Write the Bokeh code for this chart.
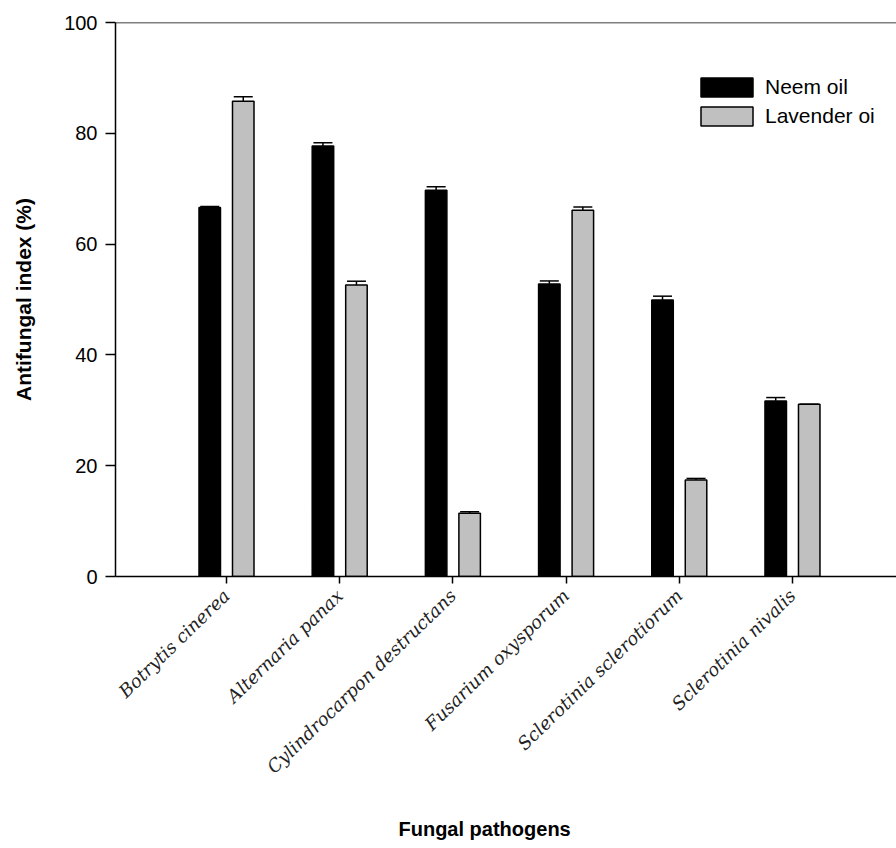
from bokeh.plotting import figure
from bokeh.models import (ColumnDataSource, Range1d, FixedTicker, Whisker, TeeHead,
                          Legend, LegendItem, Span, LinearAxis, Title)
from bokeh.transform import dodge
from bokeh.embed import file_html
from bokeh.resources import INLINE

categories = ["Botrytis cinerea", "Alternaria panax", "Cylindrocarpon destructans",
              "Fusarium oxysporum", "Sclerotinia sclerotiorum", "Sclerotinia nivalis"]
neem = [66.6, 77.7, 69.7, 52.8, 49.9, 31.7]
neem_err = [0.2, 0.6, 0.65, 0.55, 0.7, 0.6]
lavender = [85.8, 52.6, 11.4, 66.1, 17.4, 31.1]
lavender_err = [0.8, 0.7, 0.3, 0.6, 0.3, 0.0]
series_names = ["Neem oil", "Lavender oi"]
y_ticks = [0, 20, 40, 60, 80, 100]
x_title = "Fungal pathogens"
y_title = "Antifungal index (%)"

pos = list(range(1, len(categories) + 1))
src = ColumnDataSource(dict(
    x=pos,
    neem=neem,
    lav=lavender,
    neem_hi=[v + e for v, e in zip(neem, neem_err)],
    lav_hi=[v + e for v, e in zip(lavender, lavender_err)],
))

p = figure(width=896, height=846, output_backend="svg", toolbar_location=None,
           x_range=Range1d(0.0194, 6.919), y_range=Range1d(0, 100),
           min_border_left=115, min_border_right=0, min_border_top=22, min_border_bottom=270)
p.outline_line_color = None
p.grid.visible = False
p.background_fill_color = "white"

off = 0.148
bw = 0.19
r_neem = p.vbar(x=dodge("x", -off, range=p.x_range), top="neem", width=bw, source=src,
                fill_color="black", line_color="black", line_width=1.5)
r_lav = p.vbar(x=dodge("x", off, range=p.x_range), top="lav", width=bw, source=src,
               fill_color="#c0c0c0", line_color="black", line_width=1.5)

for xoff, lo, hi in [(-off, "neem", "neem_hi"), (off, "lav", "lav_hi")]:
    w = Whisker(base=dodge("x", xoff, range=p.x_range), lower=lo, upper=hi, source=src,
                dimension="height", line_color="black", line_width=1.5,
                upper_head=TeeHead(size=19, line_color="black", line_width=1.5),
                lower_head=None)
    p.add_layout(w)

p.add_layout(Span(location=100, dimension="width", line_color="black", line_width=1.5))

# axes
for ax in (p.xaxis[0], p.yaxis[0]):
    ax.axis_line_width = 1.5
    ax.axis_line_color = "black"
    ax.major_tick_line_width = 1.5
    ax.major_tick_line_color = "black"
    ax.major_tick_in = 0
    ax.minor_tick_line_color = None

xa = p.xaxis[0]
xa.ticker = FixedTicker(ticks=pos)
xa.major_label_overrides = {i: c for i, c in zip(pos, categories)}
xa.major_label_orientation = 0.77
xa.major_tick_out = 7
xa.major_label_standoff = 9
xa.major_label_text_font = "DejaVu Serif"
xa.major_label_text_font_style = "italic"
xa.major_label_text_font_size = "18px"
xa.major_label_text_color = "#222222"

ya = p.yaxis[0]
ya.ticker = FixedTicker(ticks=y_ticks)
ya.major_tick_out = 10
ya.major_label_standoff = 8
ya.major_label_text_font = "Liberation Sans"
ya.major_label_text_font_size = "20px"
ya.major_label_text_color = "black"
ya.axis_label = y_title
ya.axis_label_text_font = "Liberation Sans"
ya.axis_label_text_font_style = "bold"
ya.axis_label_text_font_size = "21px"
ya.axis_label_text_color = "black"
ya.axis_label_standoff = 26

# invisible spacer below the tick labels, then the x title (offset from the left)
spacer = LinearAxis(ticker=FixedTicker(ticks=pos[:1]), axis_line_color=None,
                    major_tick_line_color=None, minor_tick_line_color=None,
                    major_tick_out=30, major_tick_in=0, major_label_standoff=0,
                    major_label_overrides={pos[0]: ""}, major_label_text_font_size="0px")
p.add_layout(spacer, "below")
p.add_layout(Title(text=x_title, align="left", offset=283, standoff=0, vertical_align="top",
                   text_font="Liberation Sans", text_font_style="bold",
                   text_font_size="20px", text_color="black"), "below")

legend = Legend(items=[LegendItem(label=series_names[0], renderers=[r_neem]),
                       LegendItem(label=series_names[1], renderers=[r_lav])],
                location=(579, 448), glyph_width=65, glyph_height=24, label_standoff=6,
                spacing=5, padding=0, margin=0, border_line_color=None,
                background_fill_alpha=0, label_text_font="Liberation Sans",
                label_text_font_size="21px", label_text_color="black")
p.add_layout(legend)

open("out.html", "w").write(file_html(p, INLINE))
